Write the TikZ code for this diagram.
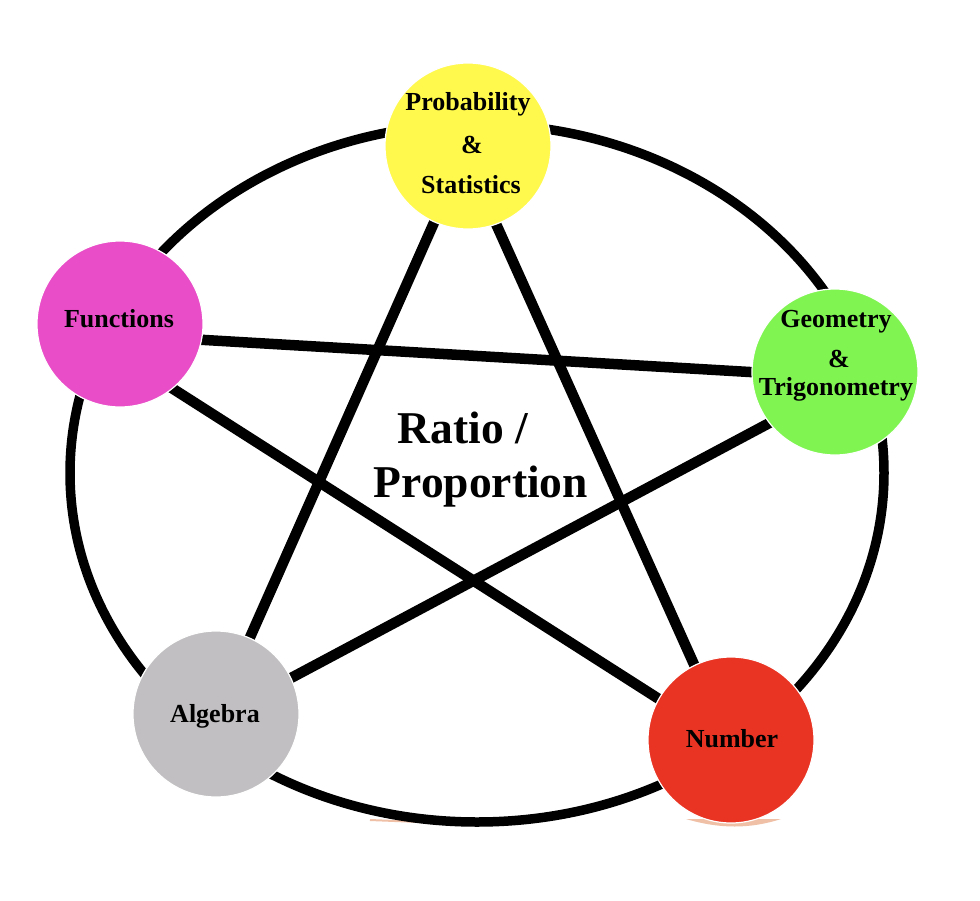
\documentclass[tikz,border=0pt]{standalone}
\usepackage{fontspec}
\setmainfont{Liberation Serif}
\usetikzlibrary{backgrounds,calc}
\definecolor{cyel}{HTML}{FFF94E}
\definecolor{cmag}{HTML}{E94DC7}
\definecolor{cgrn}{HTML}{80F552}
\definecolor{cgry}{HTML}{C1BFC1}
\definecolor{cred}{HTML}{E93424}
\definecolor{ctrace}{HTML}{EFBFA6}
\begin{document}
\begin{tikzpicture}[x=1pt,y=-1pt,
  ball/.style={circle, minimum size=166pt, inner sep=0pt, draw=white, line width=1.2pt},
  txt/.style={font=\bfseries\fontsize{26}{30}\selectfont, anchor=base, inner sep=0pt},
  bigtxt/.style={font=\bfseries\fontsize{45.5}{52}\selectfont, anchor=base, inner sep=0pt},
  starline/.style={line width=10.5pt, black},
  ring/.style={line width=9.5pt, black}]
\useasboundingbox (0,0) rectangle (980,900);

% circles
\node[ball, fill=cyel] (P) at (468,146) {};
\node[ball, fill=cmag] (F) at (120,324) {};
\node[ball, fill=cgrn] (G) at (835,372) {};
\node[ball, fill=cgry] (A) at (216,714) {};
\node[ball, fill=cred] (N) at (731,740) {};

\begin{pgfonlayer}{background}
  % faint traces
  \fill[ctrace] (686,819) .. controls (720,829) and (750,829) .. (781,819) -- cycle;
  \draw[ctrace, line width=2pt] (370,820) -- (445,823);
  % outer ring
  \draw[ring] (477,473) ellipse [x radius=407pt, y radius=349pt];
  % star
  \draw[starline] (P.center) -- (A.center);
  \draw[starline] ($(P.center)+(-7,0)$) -- ($(N.center)+(-3,0)$);
  \draw[starline] ($(F.center)+(0,11)$) -- ($(G.center)+(0,5)$);
  \draw[starline] ($(F.center)+(0,31)$) -- ($(N.center)+(0,5)$);
  \draw[starline] ($(G.center)+(0,16)$) -- ($(A.center)+(0,4)$);
\end{pgfonlayer}

% labels
\node[txt] (p1) at (468,110) {Probability};
\node[txt] (p2) at (472,153) {\&};
\node[txt] (p3) at (471,193) {Statistics};
\node[txt] (f1) at (119,327) {Functions};
\node[txt] (g1) at (836,327) {Geometry};
\node[txt] (g2) at (839,367) {\&};
\node[txt] (g3) at (836,395) {Trigonometry};
\node[txt] (a1) at (215,722) {Algebra};
\node[txt] (n1) at (732,747) {Number};
\node[bigtxt] (r1) at (463,443) {Ratio /};
\node[bigtxt] (r2) at (481,497) {Proportion};
\end{tikzpicture}
\end{document}
